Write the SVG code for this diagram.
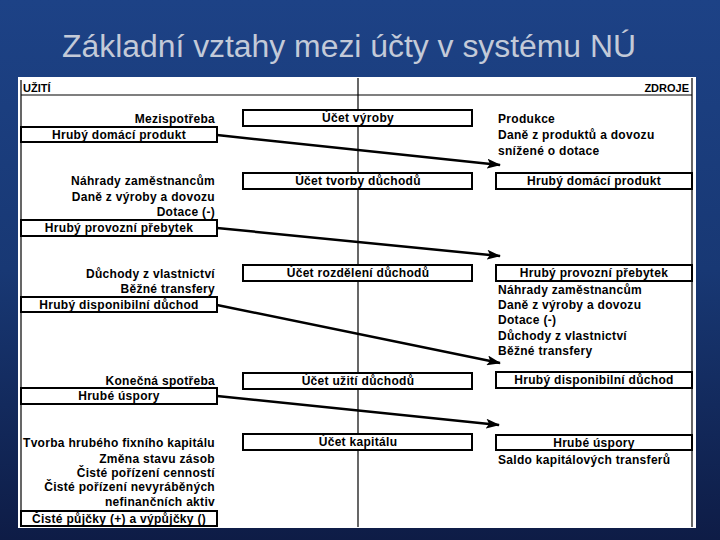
<svg xmlns="http://www.w3.org/2000/svg" width="720" height="540" viewBox="0 0 720 540">
<defs>
<linearGradient id="bg" x1="0" y1="0" x2="0" y2="1">
<stop offset="0" stop-color="#1d4286"/>
<stop offset="0.5" stop-color="#183874"/>
<stop offset="1" stop-color="#0e1c46"/>
</linearGradient>
<marker id="ah" viewBox="0 0 14 10" refX="13" refY="5" markerWidth="14" markerHeight="10" markerUnits="userSpaceOnUse" orient="auto">
<path d="M0,0 L14,5 L0,10 L3,5 Z" fill="#000"/>
</marker>
<style>
.t{font-family:"Liberation Sans",Arial,sans-serif;font-size:12px;font-weight:bold;letter-spacing:0.3px;fill:#000}
.r{text-anchor:end}
.c{text-anchor:middle}
.box{fill:#fff;stroke:#000;stroke-width:2}
.grid{stroke:#000;stroke-width:1.2;fill:none}
.conn{stroke:#000;stroke-width:2.5;fill:none;marker-end:url(#ah)}
.title{font-family:"Liberation Sans",Arial,sans-serif;font-size:31px;fill:#c3cad8}
</style>
</defs>
<rect x="0" y="0" width="720" height="540" fill="url(#bg)"/>
<text class="title" x="62" y="57" textLength="574" lengthAdjust="spacingAndGlyphs">Základní vztahy mezi účty v systému NÚ</text>
<rect x="18" y="77" width="678" height="451" fill="#fff"/>
<g id="frame">
<line class="grid" x1="21" y1="80" x2="21" y2="527"/>
<line class="grid" x1="692" y1="78" x2="692" y2="527"/>
<line class="grid" x1="358" y1="78" x2="358" y2="527"/>
<line class="grid" x1="21" y1="95" x2="692" y2="95"/>
<text class="t" x="23" y="92" style="font-size:11px;letter-spacing:0">UŽITÍ</text>
<text class="t r" x="689" y="92" style="font-size:11px;letter-spacing:0">ZDROJE</text>
</g>
<g id="connectors">
<line class="conn" x1="217" y1="135" x2="500" y2="165"/>
<line class="conn" x1="217" y1="228" x2="500" y2="256"/>
<line class="conn" x1="217" y1="305" x2="500" y2="363"/>
<line class="conn" x1="217" y1="396" x2="499" y2="425"/>
</g>
<g id="vyroba">
<rect class="box" x="243" y="110" width="229" height="16"/>
<text class="t c" x="358" y="122">Účet výroby</text>
<text class="t r" x="215" y="123">Mezispotřeba</text>
<rect class="box" x="21" y="127" width="196" height="15"/>
<text class="t c" x="119" y="139">Hrubý domácí produkt</text>
<text class="t" x="498" y="123">Produkce</text>
<text class="t" x="498" y="139">Daně z produktů a dovozu</text>
<text class="t" x="498" y="155">snížené o dotace</text>
</g>
<g id="tvorba">
<rect class="box" x="243" y="173" width="229" height="16"/>
<text class="t c" x="358" y="185">Účet tvorby důchodů</text>
<rect class="box" x="496" y="173" width="196" height="16"/>
<text class="t c" x="594" y="185">Hrubý domácí produkt</text>
<text class="t r" x="215" y="185">Náhrady zaměstnancům</text>
<text class="t r" x="215" y="201">Daně z výroby a dovozu</text>
<text class="t r" x="215" y="216">Dotace (-)</text>
<rect class="box" x="21" y="220" width="196" height="16"/>
<text class="t c" x="119" y="232">Hrubý provozní přebytek</text>
</g>
<g id="rozdeleni">
<rect class="box" x="243" y="265" width="229" height="16"/>
<text class="t c" x="358" y="277">Účet rozdělení důchodů</text>
<rect class="box" x="496" y="265" width="196" height="16"/>
<text class="t c" x="594" y="277">Hrubý provozní přebytek</text>
<text class="t" x="498" y="294">Náhrady zaměstnancům</text>
<text class="t" x="498" y="309">Daně z výroby a dovozu</text>
<text class="t" x="498" y="324">Dotace (-)</text>
<text class="t" x="498" y="340">Důchody z vlastnictví</text>
<text class="t" x="498" y="355">Běžné transfery</text>
<text class="t r" x="215" y="278">Důchody z vlastnictví</text>
<text class="t r" x="215" y="293">Běžné transfery</text>
<rect class="box" x="21" y="297" width="196" height="15"/>
<text class="t c" x="119" y="309">Hrubý disponibilní důchod</text>
</g>
<g id="uziti">
<rect class="box" x="243" y="373" width="229" height="16"/>
<text class="t c" x="358" y="385">Účet užití důchodů</text>
<rect class="box" x="496" y="372" width="196" height="16"/>
<text class="t c" x="594" y="384">Hrubý disponibilní důchod</text>
<text class="t r" x="215" y="385">Konečná spotřeba</text>
<rect class="box" x="21" y="388" width="196" height="16"/>
<text class="t c" x="119" y="400">Hrubé úspory</text>
</g>
<g id="kapital">
<rect class="box" x="243" y="434" width="229" height="16"/>
<text class="t c" x="358" y="446">Účet kapitálu</text>
<rect class="box" x="496" y="435" width="196" height="15"/>
<text class="t c" x="594" y="447">Hrubé úspory</text>
<text class="t" x="498" y="464">Saldo kapitálových transferů</text>
<text class="t r" x="215" y="447">Tvorba hrubého fixního kapitálu</text>
<text class="t r" x="215" y="463">Změna stavu zásob</text>
<text class="t r" x="215" y="477">Čisté pořízení cenností</text>
<text class="t r" x="215" y="491">Čisté pořízení nevyráběných</text>
<text class="t r" x="215" y="506">nefinančních aktiv</text>
<rect class="box" x="21" y="511" width="196" height="15"/>
<text class="t c" x="119" y="523">Čisté půjčky (+) a výpůjčky ()</text>
</g>
</svg>
